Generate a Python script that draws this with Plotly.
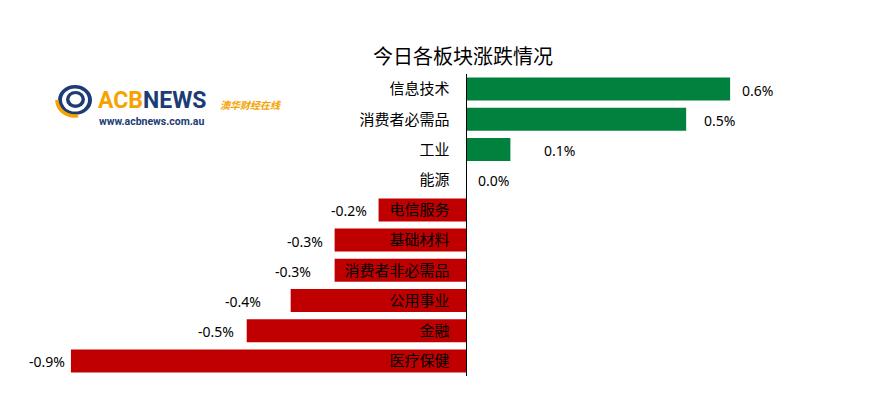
import math
import plotly.graph_objects as go

# ---- data ----
categories = ["信息技术", "消费者必需品", "工业", "能源", "电信服务",
              "基础材料", "消费者非必需品", "公用事业", "金融", "医疗保健"]
values = [0.6, 0.5, 0.1, 0.0, -0.2, -0.3, -0.3, -0.4, -0.5, -0.9]
title_text = "今日各板块涨跌情况"

# ---- style ----
GREEN = "#00823E"
RED = "#C00000"
label_shift = [10, 16, 32, 10, -10, -10, -22, -28, -11, -4]
W, H = 870, 403
ML, MR, MT, MB = 27, 52, 74, 27
XR = [-1.0, 0.8]
pw = W - ML - MR
ph = H - MT - MB


def px2x(px):
    return (px - ML) / pw


def py2y(py):
    return (H - MB - py) / ph


colors = [GREEN if v >= 0 else RED for v in values]

fig = go.Figure(go.Bar(
    x=values, y=categories, orientation="h",
    marker=dict(color=colors, line=dict(width=0)),
    hoverinfo="skip",
))

annotations = []
for c, v, s in zip(categories, values, label_shift):
    annotations.append(dict(
        x=v, y=c, xref="x", yref="y", text=f"{v:.1f}%", showarrow=False,
        xanchor="left" if v >= 0 else "right", yanchor="middle",
        xshift=s, yshift=-1,
        font=dict(family="Noto Sans, Noto Sans CJK SC", size=14, color="#000000"),
    ))

NAVY = "#1B3C74"
ORANGE = "#F5A300"

# logo text
annotations.append(dict(
    x=px2x(96), y=py2y(100.5), xref="paper", yref="paper", showarrow=False,
    xanchor="left", yanchor="middle",
    text=f"<b><span style='color:{ORANGE}'>ACB</span><span style='color:{NAVY}'>NEWS</span></b>",
    font=dict(family="Roboto", size=23),
))
annotations.append(dict(
    x=px2x(97), y=py2y(121), xref="paper", yref="paper", showarrow=False,
    xanchor="left", yanchor="middle",
    text="<b>www.acbnews.com.au</b>",
    font=dict(family="Roboto", size=10.5, color=NAVY),
))
annotations.append(dict(
    x=px2x(218), y=py2y(105), xref="paper", yref="paper", showarrow=False,
    xanchor="left", yanchor="middle",
    text="<b><i>澳华财经在线</i></b>",
    font=dict(family="Noto Sans CJK SC", size=10, color=ORANGE),
))

shapes = []


def ell(x0, y0, x1, y1, color):
    return dict(type="circle", xref="paper", yref="paper",
                x0=px2x(x0), x1=px2x(x1), y0=py2y(y1), y1=py2y(y0),
                fillcolor=color, line=dict(width=0), layer="above")


shapes.append(ell(58, 85, 92, 115, NAVY))
shapes.append(ell(62, 88.5, 88, 111.5, "white"))
shapes.append(ell(66, 91, 85, 108, NAVY))
shapes.append(ell(69.5, 94, 81.5, 104.5, "white"))
pts = []
for i in range(0, 21):
    th = math.radians(80 + 100 * i / 20)
    pts.append((px2x(75 + 18 * math.cos(th)), py2y(100 + 16 * math.sin(th))))
path = "M " + " L ".join(f"{a:.5f},{b:.5f}" for a, b in pts)
shapes.append(dict(type="path", xref="paper", yref="paper", path=path,
                   line=dict(color=ORANGE, width=3.5), layer="above"))

fig.update_layout(
    width=W, height=H,
    margin=dict(l=ML, r=MR, t=MT, b=MB, pad=0),
    paper_bgcolor="white", plot_bgcolor="white",
    showlegend=False,
    bargap=0.24,
    title=dict(text=title_text, x=463 / W, xref="container", xanchor="center",
               y=1 - 57 / H, yref="container", yanchor="middle",
               font=dict(family="Noto Sans CJK SC", size=20, color="#000000")),
    xaxis=dict(range=XR, showgrid=False, zeroline=False, showticklabels=False,
               showline=False, fixedrange=True),
    yaxis=dict(type="category", categoryorder="array", categoryarray=categories,
               autorange="reversed", anchor="free",
               position=(0 - XR[0]) / (XR[1] - XR[0]),
               showline=True, linecolor="#000000", linewidth=1,
               showgrid=False, zeroline=False, ticks="",
               ticklabelstandoff=14,
               tickfont=dict(family="Noto Sans CJK SC", size=15, color="#000000")),
    annotations=annotations,
    shapes=shapes,
)

fig.write_html("out.html")
